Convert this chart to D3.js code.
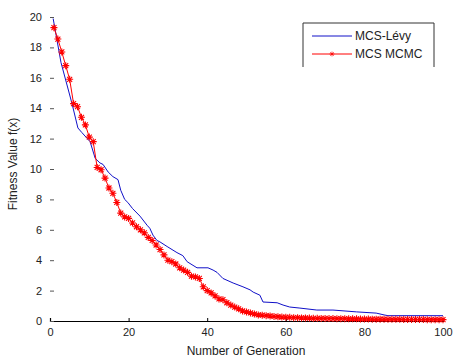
<!DOCTYPE html>
<html>
<head>
<meta charset="utf-8">
<script src="https://cdn.jsdelivr.net/npm/d3@7"></script>
<style>
  body { margin: 0; background: #fff; }
  text { font-family: "Liberation Sans", Arial, sans-serif; fill: #222; }
</style>
</head>
<body>
<div id="chart"></div>
<script>
// data
let xTicks = [0, 20, 40, 60, 80, 100];
let yTicks = [0, 2, 4, 6, 8, 10, 12, 14, 16, 18, 20];

let seriesNames = ["MCS-Lévy", "MCS MCMC"];

// MCS-Lévy (blue), generation / value pairs
let levyGen = [0.8, 2.8, 5.6, 7.1, 8.1, 10.2, 11.5, 12.7, 13.5, 14.8, 16, 17.3, 18, 19, 19.8, 21, 22.9, 24.7, 25.4, 26.2,
  27.2, 28, 29.8, 32.3, 33.8, 34.9, 37.4, 40.2, 41.5, 42.5, 44, 46.6, 49.1, 50.9, 51.7, 53.4, 54.2, 57.8, 59.3, 61,
  63.6, 67.9, 72, 78, 83, 85, 86, 100];
let levyVal = [19.9, 17.0, 14.3, 12.7, 12.4, 11.8, 10.7, 10.4, 10.3, 9.8, 9.5, 9.3, 8.6, 8.0, 7.8, 7.4, 6.9, 6.3, 6.1, 5.65,
  5.3, 5.2, 4.9, 4.5, 4.3, 3.9, 3.5, 3.5, 3.35, 3.2, 2.8, 2.5, 2.25, 2.05, 1.9, 1.7, 1.25, 1.2, 1.05, 0.92,
  0.85, 0.72, 0.72, 0.6, 0.52, 0.4, 0.35, 0.35];

// MCS MCMC (red), one value per generation 1..100
let mcmcVal = [19.3, 18.55, 17.7, 16.8, 15.9, 14.3, 14.1, 13.4, 12.9, 12.1,
  11.8, 10.1, 9.95, 9.4, 8.75, 8.4, 7.8, 7.1, 6.85, 6.75,
  6.45, 6.2, 6.0, 5.8, 5.5, 5.3, 5.0, 4.7, 4.35, 4.0,
  3.9, 3.75, 3.5, 3.35, 3.2, 2.95, 2.9, 2.8, 2.25, 2.0,
  1.85, 1.65, 1.45, 1.4, 1.2, 1.05, 0.92, 0.8, 0.66, 0.6,
  0.53, 0.46, 0.4, 0.38, 0.35, 0.33, 0.3, 0.28, 0.26, 0.25,
  0.24, 0.22, 0.22, 0.2, 0.2, 0.19, 0.18, 0.18, 0.17, 0.17,
  0.16, 0.16, 0.15, 0.15, 0.15, 0.14, 0.14, 0.14, 0.13, 0.13,
  0.13, 0.12, 0.12, 0.12, 0.12, 0.11, 0.11, 0.11, 0.11, 0.1,
  0.1, 0.1, 0.1, 0.1, 0.1, 0.09, 0.09, 0.09, 0.09, 0.09];

let svgWidth = 456;
let svgHeight = 358;

let svg = d3.select("#chart")
  .append("svg")
  .attr("width", svgWidth)
  .attr("height", svgHeight);

let x = d3.scaleLinear().domain([0, 100]).range([50, 443]);
let y = d3.scaleLinear().domain([0, 20]).range([321, 17]);

let levy = levyGen.map((g, i) => ({ g: g, v: levyVal[i] }));
let mcmc = mcmcVal.map((v, i) => ({ g: i + 1, v: v }));

// x axis
let xAxis = svg.append("g")
  .attr("transform", `translate(0, ${y(0)})`)
  .call(d3.axisBottom(x).tickValues(xTicks).tickSize(-3).tickPadding(7));
xAxis.select(".domain").attr("stroke", "#000").attr("stroke-width", 1.2);
xAxis.selectAll(".tick line").attr("stroke", "#000");
xAxis.selectAll("text").attr("font-size", 11).attr("fill", "#333");

// y axis (line itself is not visible in the picture)
let yAxis = svg.append("g")
  .attr("transform", `translate(${x(0)}, 0)`)
  .call(d3.axisLeft(y).tickValues(yTicks).tickSize(-4).tickPadding(8));
yAxis.select(".domain").remove();
yAxis.selectAll(".tick line").attr("stroke", "#555");
yAxis.selectAll("text").attr("font-size", 11).attr("fill", "#333");

let line = d3.line().x(d => x(d.g)).y(d => y(d.v));

svg.append("path")
  .datum(levy)
  .attr("d", line)
  .attr("fill", "none")
  .attr("stroke", "#1010c8")
  .attr("stroke-width", 1);

svg.append("path")
  .datum(mcmc)
  .attr("d", line)
  .attr("fill", "none")
  .attr("stroke", "#ff0000")
  .attr("stroke-width", 1);

let star = "M-3.5,0H3.5M0,-3.5V3.5M-2.5,-2.5L2.5,2.5M-2.5,2.5L2.5,-2.5";

svg.selectAll(".mark")
  .data(mcmc)
  .enter()
  .append("path")
  .attr("class", "mark")
  .attr("transform", d => `translate(${x(d.g)}, ${y(d.v)})`)
  .attr("d", star)
  .attr("fill", "none")
  .attr("stroke", "#ff0000")
  .attr("stroke-width", 1.1);

// legend (box has no bottom edge in the picture)
let lg = svg.append("g");
lg.append("path")
  .attr("d", "M303,67V23H434V67")
  .attr("fill", "none")
  .attr("stroke", "#333")
  .attr("stroke-width", 1);

lg.append("line")
  .attr("x1", 312).attr("x2", 352).attr("y1", 36).attr("y2", 36)
  .attr("stroke", "#1010c8");
lg.append("line")
  .attr("x1", 312).attr("x2", 352).attr("y1", 54).attr("y2", 54)
  .attr("stroke", "#ff0000");
lg.append("path")
  .attr("transform", "translate(332, 54) scale(0.7)")
  .attr("d", star)
  .attr("fill", "none")
  .attr("stroke", "#ff0000");

lg.selectAll(".lgText")
  .data(seriesNames)
  .enter()
  .append("text")
  .attr("x", 355)
  .attr("y", (d, i) => 40 + i * 18)
  .attr("font-size", 12)
  .text(d => d);

// axis titles
svg.append("text")
  .attr("x", 246)
  .attr("y", 355)
  .attr("text-anchor", "middle")
  .attr("font-size", 12)
  .text("Number of Generation");

svg.append("text")
  .attr("transform", "translate(17, 164) rotate(-90)")
  .attr("text-anchor", "middle")
  .attr("font-size", 12)
  .text("Fitness Value f(x)");
</script>
</body>
</html>
